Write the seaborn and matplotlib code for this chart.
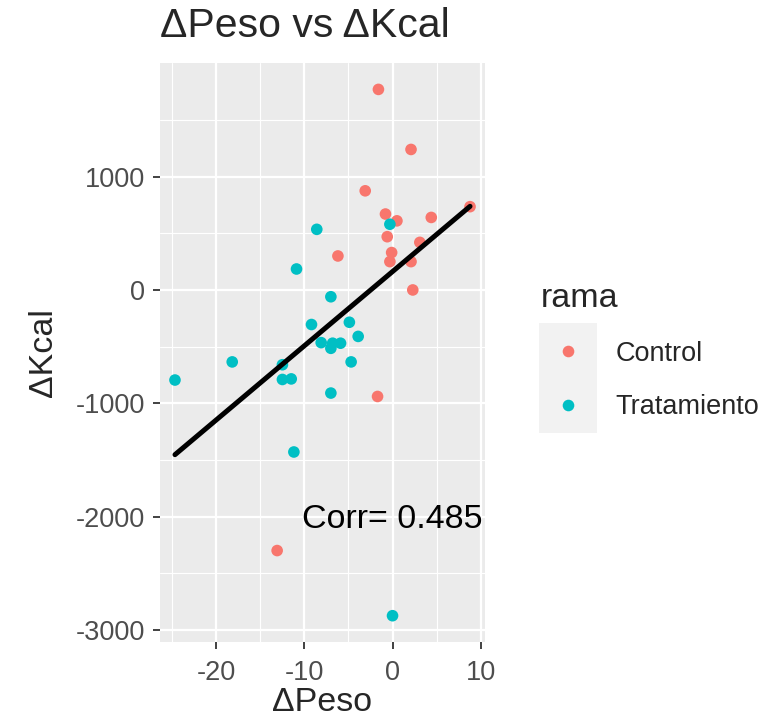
import numpy as np
import pandas as pd
import matplotlib
matplotlib.use("Agg")
import matplotlib.pyplot as plt
from matplotlib.ticker import FixedLocator
from matplotlib.patches import Rectangle
import seaborn as sns

# ---- data ----
groups = ["Control", "Tratamiento"]
control_peso = [-1.6, 2.1, -3.1, -0.8, 0.5, 4.4, 8.8, -0.6, 3.1, -6.2, -0.1, -0.3, 2.1, 2.3, -1.7, -13.1]
control_kcal = [1770, 1240, 875, 670, 610, 640, 735, 470, 420, 300, 330, 250, 250, 0, -940, -2300]
trat_peso = [-0.3, -8.6, -10.9, -7.0, -9.2, -4.9, -3.9, -8.1, -6.8, -5.9, -7.0, -4.7,
             -18.2, -24.7, -12.5, -12.5, -11.5, -7.0, -11.2, 0.0]
trat_kcal = [580, 535, 185, -60, -305, -285, -410, -465, -470, -470, -515, -635,
             -635, -795, -660, -790, -785, -910, -1430, -2875]
x_ticks = [-20, -10, 0, 10]
y_ticks = [-3000, -2000, -1000, 0, 1000]
corr_label = "Corr= 0.485"

df = pd.DataFrame({
    "dPeso": control_peso + trat_peso,
    "dKcal": control_kcal + trat_kcal,
    "rama": [groups[0]] * len(control_peso) + [groups[1]] * len(trat_peso),
})

sns.set_theme(style="white")
plt.rcParams["font.family"] = ["Liberation Sans", "DejaVu Sans"]
plt.rcParams["axes.unicode_minus"] = False

W, H = 778, 725
fig = plt.figure(figsize=(W / 100, H / 100), dpi=100)
L, R, T, B = 160, 485, 63, 642
ax = fig.add_axes([L / W, 1 - B / H, (R - L) / W, (B - T) / H])
ax.set_facecolor("#EBEBEB")

palette = {"Control": "#F8766D", "Tratamiento": "#00BFC4"}
sns.scatterplot(data=df, x="dPeso", y="dKcal", hue="rama", hue_order=groups,
                palette=palette, s=70, linewidth=0, ax=ax, zorder=3)
sns.regplot(data=df, x="dPeso", y="dKcal", scatter=False, ci=None,
            line_kws={"color": "black", "lw": 3.6, "zorder": 4}, ax=ax)

ax.set_xlim(-26.4, 10.5)
ax.set_ylim(-3107, 2003)
ax.xaxis.set_major_locator(FixedLocator(x_ticks))
ax.yaxis.set_major_locator(FixedLocator(y_ticks))
ax.xaxis.set_minor_locator(FixedLocator([-25, -15, -5, 5]))
ax.yaxis.set_minor_locator(FixedLocator([-2500, -1500, -500, 500, 1500]))
ax.grid(which="major", color="white", lw=1.6, zorder=0)
ax.grid(which="minor", color="white", lw=0.8, zorder=0)
ax.set_axisbelow(True)
for s in ax.spines.values():
    s.set_visible(False)
ax.tick_params(axis="both", which="major", length=5, width=1.3, color="#333333",
               labelcolor="#4D4D4D", labelsize=19.5)
ax.tick_params(axis="x", which="major", bottom=True, pad=8)
ax.tick_params(axis="y", which="major", left=True, pad=6)
ax.tick_params(axis="both", which="minor", length=0)

ax.text(0, -2030, corr_label, ha="center", va="center", fontsize=24.5, color="black", zorder=5)

ax.set_xlabel("\u0394Peso", fontsize=24.5, labelpad=1)
ax.set_ylabel("\u0394Kcal", fontsize=24.5, labelpad=12)
ax.set_title("\u0394Peso vs \u0394Kcal", loc="left", fontsize=29.5, pad=19)

# legend
fig.patches.append(Rectangle((539 / W, 1 - 433 / H), 58 / W, 110 / H,
                             transform=fig.transFigure, facecolor="#F2F2F2",
                             edgecolor="none", zorder=-5))
leg = ax.legend(title="rama", loc="upper left", bbox_to_anchor=(530 / W, 1 - 272 / H),
                bbox_transform=fig.transFigure, frameon=False, fontsize=19.5,
                title_fontsize=24.5, markerscale=1.0, handletextpad=0.75,
                labelspacing=1.0, borderaxespad=0, alignment="left")
leg.set_zorder(10)

fig.savefig("out.png", dpi=100)
